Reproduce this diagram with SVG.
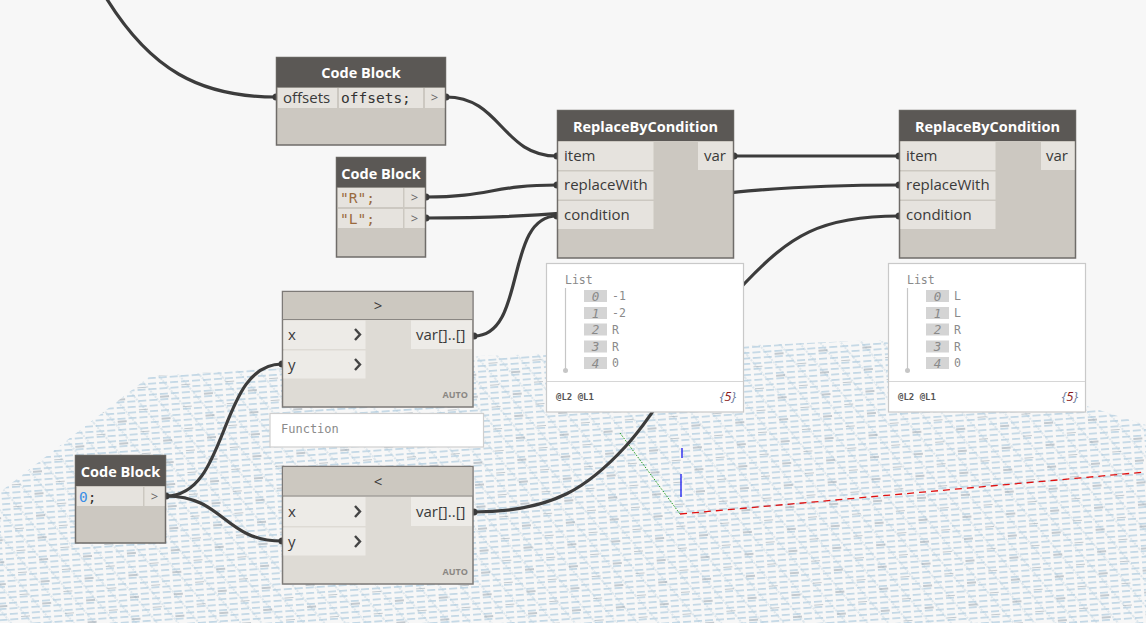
<svg xmlns="http://www.w3.org/2000/svg" width="1146" height="623" viewBox="0 0 1146 623">
<defs>
<pattern id="gridA" width="11" height="5.5" patternUnits="userSpaceOnUse" patternTransform="rotate(-4)">
<path d="M0,2.7 H8" stroke="#acc9dd" stroke-width="1.2"/>
</pattern>
<pattern id="gridB" width="44" height="22" patternUnits="userSpaceOnUse" patternTransform="rotate(-4)">
<path d="M0,11 H9 M22,0 H31" stroke="#8e9ba6" stroke-width="1"/>
</pattern>
<pattern id="gridC" width="16" height="16" patternUnits="userSpaceOnUse" patternTransform="rotate(50)">
<path d="M0,8 H16" stroke="#b9cfdd" stroke-width="0.8" stroke-dasharray="2,1"/>
</pattern>
<marker id="nub" viewBox="0 0 8 8" refX="4" refY="4" markerWidth="8" markerHeight="8" markerUnits="userSpaceOnUse">
<circle cx="4" cy="4" r="3.5" fill="#3a3a3a"/>
</marker>
</defs>
<style>
.hdr{fill:#5b5855;}
.body{fill:#ccc8c1;stroke:#6f6c69;stroke-width:1.5;}
.cell{fill:#e6e3de;}
.fbody{fill:#dedbd5;stroke:#7d7a77;stroke-width:1.5;}
.fhdr{fill:#ccc8c0;}
.fcell{fill:#edebe7;}
.ht{font-family:"Open Sans","Liberation Sans",sans-serif;font-weight:bold;font-size:14.5px;fill:#ffffff;text-anchor:middle;}
.pt{font-family:"Open Sans","Liberation Sans",sans-serif;font-size:15px;fill:#3a3a3a;}
.code{font-family:"DejaVu Sans Mono","Liberation Mono",monospace;font-size:14.5px;fill:#333;}
.arr{font-family:"Open Sans","Liberation Sans",sans-serif;font-size:13px;fill:#666;text-anchor:middle;}
.auto{font-family:"Open Sans","Liberation Sans",sans-serif;font-weight:bold;font-size:9px;fill:#8a8783;text-anchor:end;}
.chev{fill:none;stroke:#444;stroke-width:2.4;}
.wire{fill:none;stroke:#3c3c3c;stroke-width:3.2;}
.watch{fill:#ffffff;stroke:#c9c9c9;stroke-width:1.2;}
.lt{font-family:"DejaVu Sans Mono","Liberation Mono",monospace;font-size:11.5px;fill:#8a8a8a;}
.idx{fill:#d4d4d4;}
.it{font-family:"DejaVu Sans Mono","Liberation Mono",monospace;font-size:12.5px;font-style:italic;fill:#8a8a8a;text-anchor:middle;}
.val{font-family:"DejaVu Sans Mono","Liberation Mono",monospace;font-size:11.5px;fill:#8a8a8a;}
.foot{font-family:"DejaVu Sans Mono","Liberation Mono",monospace;font-size:9px;font-weight:bold;fill:#555;}
.cnt{font-family:"Open Sans","Liberation Sans",sans-serif;font-size:13px;font-style:italic;fill:#6b7b9a;text-anchor:end;}
</style>
<rect x="0" y="0" width="1146" height="623" fill="#f7f7f7"/>
<g id="ground">
<polygon points="0,492 150,376 480,356 880,340 1146,425 1146,623 0,623" fill="url(#gridC)"/>
<polygon points="0,492 150,376 480,356 880,340 1146,425 1146,623 0,623" fill="url(#gridA)"/>
<polygon points="0,492 150,376 480,356 880,340 1146,425 1146,623 0,623" fill="url(#gridB)"/>
<line x1="620" y1="433" x2="680" y2="514" stroke="#1a9a1a" stroke-width="1" stroke-dasharray="1.5,1.5"/>
<line x1="680" y1="514" x2="1146" y2="472" stroke="#e01010" stroke-width="1.3" stroke-dasharray="7,5"/>
<line x1="682" y1="448" x2="682" y2="458" stroke="#1a1aee" stroke-width="1.3"/>
<line x1="681" y1="474" x2="681" y2="497" stroke="#1a1aee" stroke-width="1.3"/>
</g>
<g id="connectors">
<path class="wire" d="M105,-4 C150,70 200,97 276,97" marker-end="url(#nub)"/>
<path class="wire" d="M446,97 C501,97 502,156 557,156" marker-start="url(#nub)" marker-end="url(#nub)"/>
<path class="wire" d="M426,197 C490,197 493,185 557,185" marker-start="url(#nub)" marker-end="url(#nub)"/>
<path class="wire" d="M426,218 C662,218 662,185 899,185" marker-start="url(#nub)" marker-end="url(#nub)"/>
<path class="wire" d="M474,336 C527,336 504,216 557,216" marker-start="url(#nub)" marker-end="url(#nub)"/>
<path class="wire" d="M734,156 L899,156" marker-start="url(#nub)" marker-end="url(#nub)"/>
<path class="wire" d="M474,512 C555,512 590,485 625,447 C660,410 700,330 745,283 C790,236 820,216 899,216" marker-start="url(#nub)" marker-end="url(#nub)"/>
<path class="wire" d="M166,496 C230,496 218,364 282,364" marker-start="url(#nub)" marker-end="url(#nub)"/>
<path class="wire" d="M166,496 C224,496 224,541 282,541" marker-end="url(#nub)"/>
</g>
<g id="codeblock-offsets">
<rect class="body" x="276.5" y="57.5" width="169" height="87.5"/>
<rect class="hdr" x="276.5" y="57.5" width="169" height="30"/>
<text class="ht" x="361" y="78">Code Block</text>
<rect class="cell" x="278" y="88" width="59" height="20"/>
<rect class="cell" x="339" y="88" width="84" height="20"/>
<rect class="cell" x="425" y="88" width="19.5" height="20"/>
<text class="pt" x="283" y="103">offsets</text>
<text class="code" x="341" y="103">offsets;</text>
<text class="arr" x="434.5" y="102">&gt;</text>
</g>
<g id="codeblock-strings">
<rect class="body" x="336.5" y="157.5" width="89" height="99.5"/>
<rect class="hdr" x="336.5" y="157.5" width="89" height="30"/>
<text class="ht" x="381" y="179">Code Block</text>
<rect class="cell" x="338" y="188" width="65" height="19"/>
<rect class="cell" x="404.5" y="188" width="20" height="19"/>
<rect class="cell" x="338" y="209" width="65" height="19"/>
<rect class="cell" x="404.5" y="209" width="20" height="19"/>
<text class="code" x="340" y="203" style="fill:#9a6a3e">"R";</text>
<text class="code" x="340" y="224" style="fill:#9a6a3e">"L";</text>
<text class="arr" x="414.5" y="202">&gt;</text>
<text class="arr" x="414.5" y="223">&gt;</text>
</g>
<g id="replace1">
<rect class="body" x="557.5" y="110.5" width="176" height="147.5"/>
<rect class="hdr" x="557.5" y="110.5" width="176" height="30.5"/>
<text class="ht" x="645.5" y="132">ReplaceByCondition</text>
<rect class="cell" x="558.5" y="142" width="95" height="28"/>
<rect class="cell" x="558.5" y="171.5" width="95" height="28"/>
<rect class="cell" x="558.5" y="201" width="95" height="28"/>
<rect class="cell" x="698" y="142" width="34.5" height="28"/>
<text class="pt" x="564" y="161">item</text>
<text class="pt" x="564" y="190">replaceWith</text>
<text class="pt" x="564" y="220">condition</text>
<text class="pt" x="704" y="161">var</text>
</g>
<g id="watch1">
<rect class="watch" x="546.5" y="263.5" width="197" height="148.5"/>
<line x1="547" y1="381.5" x2="743" y2="381.5" stroke="#d6d6d6" stroke-width="1.2"/>
<text class="lt" x="565" y="284">List</text>
<line x1="565.5" y1="288" x2="565.5" y2="370" stroke="#c6c6c6" stroke-width="1.2"/>
<circle cx="565.5" cy="370.5" r="2.5" fill="#c6c6c6"/>
<rect class="idx" x="584" y="290" width="23" height="12"/>
<rect class="idx" x="584" y="307" width="23" height="12"/>
<rect class="idx" x="584" y="323.5" width="23" height="12"/>
<rect class="idx" x="584" y="340.5" width="23" height="12"/>
<rect class="idx" x="584" y="357" width="23" height="12"/>
<text class="it" x="595.5" y="300.5">0</text>
<text class="it" x="595.5" y="317.5">1</text>
<text class="it" x="595.5" y="334">2</text>
<text class="it" x="595.5" y="351">3</text>
<text class="it" x="595.5" y="367.5">4</text>
<text class="val" x="612" y="300">-1</text>
<text class="val" x="612" y="317">-2</text>
<text class="val" x="612" y="333.5">R</text>
<text class="val" x="612" y="350.5">R</text>
<text class="val" x="612" y="367">0</text>
<text class="foot" x="556" y="400">@L2 @L1</text>
<text class="cnt" x="736" y="401">{<tspan style="fill:#8b1a1a">5</tspan>}</text>
</g>
<g id="replace2">
<rect class="body" x="899.5" y="110.5" width="176" height="147.5"/>
<rect class="hdr" x="899.5" y="110.5" width="176" height="30.5"/>
<text class="ht" x="987.5" y="132">ReplaceByCondition</text>
<rect class="cell" x="900.5" y="142" width="95" height="28"/>
<rect class="cell" x="900.5" y="171.5" width="95" height="28"/>
<rect class="cell" x="900.5" y="201" width="95" height="28"/>
<rect class="cell" x="1041" y="142" width="33.5" height="28"/>
<text class="pt" x="906" y="161">item</text>
<text class="pt" x="906" y="190">replaceWith</text>
<text class="pt" x="906" y="220">condition</text>
<text class="pt" x="1046" y="161">var</text>
</g>
<g id="watch2">
<rect class="watch" x="888.5" y="263.5" width="197" height="148.5"/>
<line x1="889" y1="381.5" x2="1085" y2="381.5" stroke="#d6d6d6" stroke-width="1.2"/>
<text class="lt" x="907" y="284">List</text>
<line x1="907.5" y1="288" x2="907.5" y2="370" stroke="#c6c6c6" stroke-width="1.2"/>
<circle cx="907.5" cy="370.5" r="2.5" fill="#c6c6c6"/>
<rect class="idx" x="926" y="290" width="23" height="12"/>
<rect class="idx" x="926" y="307" width="23" height="12"/>
<rect class="idx" x="926" y="323.5" width="23" height="12"/>
<rect class="idx" x="926" y="340.5" width="23" height="12"/>
<rect class="idx" x="926" y="357" width="23" height="12"/>
<text class="it" x="937.5" y="300.5">0</text>
<text class="it" x="937.5" y="317.5">1</text>
<text class="it" x="937.5" y="334">2</text>
<text class="it" x="937.5" y="351">3</text>
<text class="it" x="937.5" y="367.5">4</text>
<text class="val" x="954" y="300">L</text>
<text class="val" x="954" y="317">L</text>
<text class="val" x="954" y="333.5">R</text>
<text class="val" x="954" y="350.5">R</text>
<text class="val" x="954" y="367">0</text>
<text class="foot" x="898" y="400">@L2 @L1</text>
<text class="cnt" x="1078" y="401">{<tspan style="fill:#8b1a1a">5</tspan>}</text>
</g>
<g id="greater">
<rect class="fbody" x="282.5" y="291.5" width="190.5" height="115.5"/>
<rect class="fhdr" x="283.2" y="292.2" width="189" height="27"/>
<line x1="282.5" y1="319.5" x2="473" y2="319.5" stroke="#8a8783" stroke-width="1.2"/>
<text class="pt" x="378" y="311" text-anchor="middle">&gt;</text>
<rect class="fcell" x="283.5" y="320.5" width="82" height="28.5"/>
<rect class="fcell" x="283.5" y="350.5" width="82" height="28"/>
<rect class="fcell" x="411" y="320.5" width="61" height="28.5"/>
<text class="pt" x="288" y="340">x</text>
<text class="pt" x="288" y="370">y</text>
<polyline class="chev" points="355,329 360,334.5 355,340"/>
<polyline class="chev" points="355,359 360,364.5 355,370"/>
<text class="pt" x="416" y="340">var[]..[]</text>
<text class="auto" x="468" y="398">AUTO</text>
</g>
<g id="function-tooltip">
<rect x="270" y="413.5" width="213.5" height="33.5" fill="#ffffff" stroke="#cfcfcf" stroke-width="1.2"/>
<text x="281" y="433" style="font-family:'DejaVu Sans Mono','Liberation Mono',monospace;font-size:12px;fill:#8a8a8a">Function</text>
</g>
<g id="less">
<rect class="fbody" x="282.5" y="466.5" width="190.5" height="117.5"/>
<rect class="fhdr" x="283.2" y="467.2" width="189" height="28.5"/>
<line x1="282.5" y1="496" x2="473" y2="496" stroke="#8a8783" stroke-width="1.2"/>
<text class="pt" x="378" y="487" text-anchor="middle">&lt;</text>
<rect class="fcell" x="283.5" y="497" width="82" height="29"/>
<rect class="fcell" x="283.5" y="527.5" width="82" height="28"/>
<rect class="fcell" x="411" y="497" width="61" height="29"/>
<text class="pt" x="288" y="517">x</text>
<text class="pt" x="288" y="547">y</text>
<polyline class="chev" points="355,506 360,511.5 355,517"/>
<polyline class="chev" points="355,536 360,541.5 355,547"/>
<text class="pt" x="416" y="517">var[]..[]</text>
<text class="auto" x="468" y="575">AUTO</text>
</g>
<g id="codeblock-zero">
<rect class="body" x="75.5" y="455.5" width="90" height="87.5"/>
<rect class="hdr" x="75.5" y="455.5" width="90" height="30.5"/>
<text class="ht" x="120.5" y="477">Code Block</text>
<rect class="cell" x="77" y="487" width="66" height="19"/>
<rect class="cell" x="144.5" y="487" width="20" height="19"/>
<text class="code" x="79" y="502"><tspan style="fill:#3a8ee6">0</tspan>;</text>
<text class="arr" x="154.5" y="501">&gt;</text>
</g>
</svg>
